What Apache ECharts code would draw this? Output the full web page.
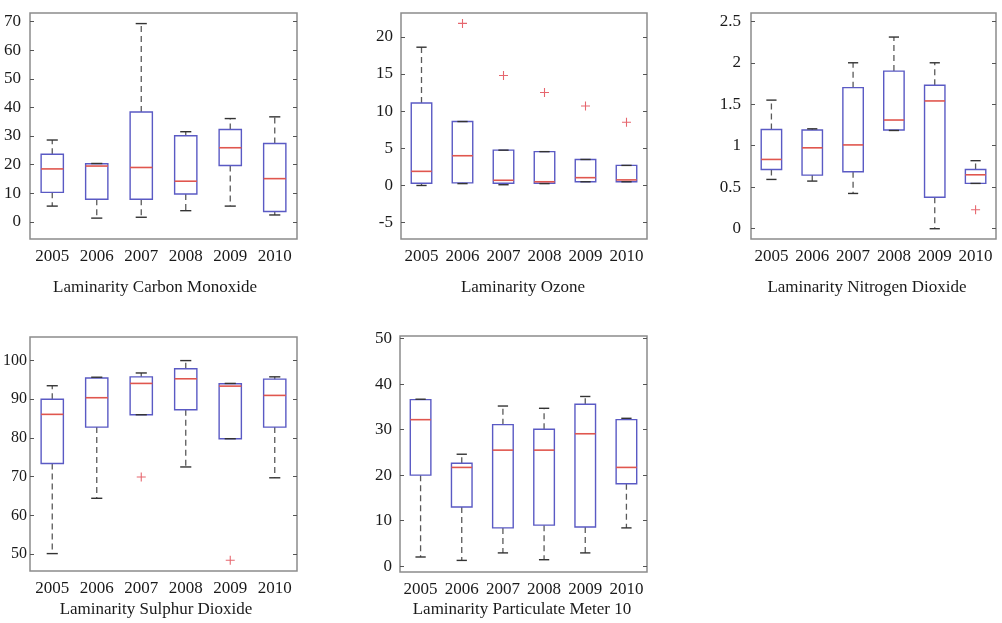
<!DOCTYPE html>
<html>
<head>
<meta charset="utf-8">
<title>Laminarity boxplots</title>
<script src="https://cdn.jsdelivr.net/npm/echarts@6/dist/echarts.min.js"></script>
<style>
  html, body { margin: 0; padding: 0; background: #fff; }
  #chart { width: 1002px; height: 623px; }
</style>
</head>
<body>
<div id="chart"></div>
<script>
const years = ['2005', '2006', '2007', '2008', '2009', '2010'];

// each box: [lower whisker, Q1, median, Q3, upper whisker]
const coBox = [
  [5.5, 10.3, 18.5, 23.6, 28.6],
  [1.3, 7.9, 19.5, 20.3, 20.4],
  [1.6, 7.9, 19.0, 38.4, 69.3],
  [3.9, 9.75, 14.2, 30.1, 31.5],
  [5.5, 19.7, 25.9, 32.3, 36.1],
  [2.4, 3.6, 15.1, 27.4, 36.7]
];
const coOutliers = [];
const coTicks = [0, 10, 20, 30, 40, 50, 60, 70];

const ozoneBox = [
  [0.0, 0.3, 1.9, 11.1, 18.6],
  [0.25, 0.35, 4.0, 8.6, 8.6],
  [0.1, 0.3, 0.7, 4.75, 4.75],
  [0.25, 0.3, 0.5, 4.55, 4.55],
  [0.5, 0.5, 1.05, 3.5, 3.5],
  [0.5, 0.5, 0.75, 2.7, 2.7]
];
const ozoneOutliers = [[1, 21.8], [2, 14.8], [3, 12.5], [4, 10.7], [5, 8.5]];
const ozoneTicks = [-5, 0, 5, 10, 15, 20];

const no2Box = [
  [0.594, 0.714, 0.835, 1.196, 1.55],
  [0.574, 0.646, 0.975, 1.19, 1.204],
  [0.425, 0.686, 1.01, 1.70, 2.0],
  [1.184, 1.19, 1.31, 1.90, 2.31],
  [0.0, 0.38, 1.54, 1.73, 2.0],
  [0.546, 0.546, 0.65, 0.714, 0.82]
];
const no2Outliers = [[5, 0.229]];
const no2Ticks = [0, 0.5, 1, 1.5, 2, 2.5];

const so2Box = [
  [50.1, 73.4, 86.1, 90.0, 93.5],
  [64.4, 82.8, 90.4, 95.5, 95.7],
  [86.0, 86.0, 94.1, 95.8, 96.8],
  [72.5, 87.3, 95.3, 97.9, 100],
  [79.8, 79.8, 93.4, 94.0, 94.1],
  [69.7, 82.8, 91.0, 95.2, 95.8]
];
const so2Outliers = [[2, 69.9], [4, 48.4]];
const so2Ticks = [50, 60, 70, 80, 90, 100];

const pm10Box = [
  [2.0, 20.0, 32.2, 36.6, 36.7],
  [1.25, 13.0, 21.7, 22.6, 24.6],
  [2.9, 8.4, 25.5, 31.1, 35.2],
  [1.4, 9.0, 25.5, 30.1, 34.7],
  [2.9, 8.6, 29.1, 35.6, 37.3],
  [8.4, 18.1, 21.7, 32.2, 32.5]
];
const pm10Outliers = [];
const pm10Ticks = [0, 10, 20, 30, 40, 50];

const panels = [
  {title: 'Laminarity Carbon Monoxide', box: coBox, out: coOutliers, ticks: coTicks,
   min: -6, max: 73, grid: {left: 30, top: 13, width: 267, height: 226}, tx: 155, ty: 288, lm: 9},
  {title: 'Laminarity Ozone', box: ozoneBox, out: ozoneOutliers, ticks: ozoneTicks,
   min: -7.2, max: 23.2, grid: {left: 401, top: 13, width: 246, height: 226}, tx: 523, ty: 288, lm: 8},
  {title: 'Laminarity Nitrogen Dioxide', box: no2Box, out: no2Outliers, ticks: no2Ticks,
   min: -0.124, max: 2.6, grid: {left: 751, top: 13, width: 245, height: 226}, tx: 867, ty: 288, lm: 10},
  {title: 'Laminarity Sulphur Dioxide', box: so2Box, out: so2Outliers, ticks: so2Ticks,
   min: 45.6, max: 106.1, grid: {left: 30, top: 337, width: 267, height: 234}, tx: 156, ty: 610, lm: 3},
  {title: 'Laminarity Particulate Meter 10', box: pm10Box, out: pm10Outliers, ticks: pm10Ticks,
   min: -1.3, max: 50.6, grid: {left: 400, top: 336, width: 247, height: 236}, tx: 522, ty: 610, lm: 8}
];

const FONT = '"Liberation Serif", "Times New Roman", serif';
const BOX_BLUE = '#5a5ac4';
const MED_RED = '#e0564e';
const WHISK = '#5a5a5a';

function renderBox(params, api) {
  let x = api.value(0);
  let lo = api.coord([x, api.value(1)]);
  let q1 = api.coord([x, api.value(2)]);
  let md = api.coord([x, api.value(3)]);
  let q3 = api.coord([x, api.value(4)]);
  let hi = api.coord([x, api.value(5)]);
  let band = api.size([1, 0])[0];
  let bw = band * 0.5;
  let cw = band * 0.25;
  let cx = lo[0];
  let dash = {stroke: WHISK, lineWidth: 1.3, lineDash: [6, 4]};
  let cap = {stroke: '#333', lineWidth: 1.4};
  return {
    type: 'group',
    children: [
      {type: 'line', shape: {x1: cx, y1: q3[1], x2: cx, y2: hi[1]}, style: dash},
      {type: 'line', shape: {x1: cx, y1: q1[1], x2: cx, y2: lo[1]}, style: dash},
      {type: 'rect', shape: {x: cx - bw / 2, y: q3[1], width: bw, height: q1[1] - q3[1]},
        style: {fill: 'rgba(255,255,255,0)', stroke: BOX_BLUE, lineWidth: 1.4}},
      {type: 'line', shape: {x1: cx - cw / 2, y1: hi[1], x2: cx + cw / 2, y2: hi[1]}, style: cap},
      {type: 'line', shape: {x1: cx - cw / 2, y1: lo[1], x2: cx + cw / 2, y2: lo[1]}, style: cap},
      {type: 'line', shape: {x1: cx - bw / 2, y1: md[1], x2: cx + bw / 2, y2: md[1]},
        style: {stroke: MED_RED, lineWidth: 1.6}}
    ]
  };
}

let myChart = echarts.init(document.getElementById('chart'));

let grids = [], xAxes = [], yAxes = [], series = [], graphics = [];

panels.forEach(function (p, i) {
  grids.push(Object.assign({show: true, borderColor: '#8c8c8c', borderWidth: 1.5,
    backgroundColor: '#fff', containLabel: false, outerBoundsMode: 'none'}, p.grid));

  xAxes.push({
    type: 'category', gridIndex: i, data: years, boundaryGap: true,
    axisLine: {show: false}, axisTick: {show: false},
    axisLabel: {interval: 0, hideOverlap: false, color: '#1a1a1a', fontFamily: FONT,
      fontSize: 17, margin: 9}
  });

  // left axis with labels, right axis only for the inner ticks
  yAxes.push({
    type: 'value', gridIndex: i, min: p.min, max: p.max, position: 'left',
    axisLine: {show: false}, splitLine: {show: false},
    axisTick: {show: true, inside: true, length: 4, customValues: p.ticks,
      lineStyle: {color: '#555'}},
    axisLabel: {customValues: p.ticks, color: '#1a1a1a', fontFamily: FONT,
      fontSize: i === 3 ? 16 : 17, margin: p.lm}
  });
  yAxes.push({
    type: 'value', gridIndex: i, min: p.min, max: p.max, position: 'right',
    axisLine: {show: false}, splitLine: {show: false},
    axisTick: {show: true, inside: true, length: 4, customValues: p.ticks,
      lineStyle: {color: '#555'}},
    axisLabel: {show: false}
  });

  series.push({
    type: 'custom', xAxisIndex: i, yAxisIndex: i * 2,
    renderItem: renderBox,
    encode: {x: 0, y: [1, 2, 3, 4, 5]},
    data: p.box.map(function (b, k) { return [k].concat(b); }),
    z: 3
  });
  series.push({
    type: 'scatter', xAxisIndex: i, yAxisIndex: i * 2,
    symbol: 'path://M4.4,0H5.6V4.4H10V5.6H5.6V10H4.4V5.6H0V4.4H4.4Z',
    symbolSize: 9,
    itemStyle: {color: '#e0404a'},
    data: p.out,
    z: 4
  });

  graphics.push({
    type: 'text', x: p.tx, y: p.ty,
    style: {text: p.title, fill: '#1a1a1a', font: '17px ' + FONT,
      textAlign: 'center', textVerticalAlign: 'middle'}
  });
});

let option = {
  backgroundColor: '#fff',
  animation: false,
  grid: grids,
  xAxis: xAxes,
  yAxis: yAxes,
  series: series,
  graphic: graphics
};

myChart.setOption(option);
</script>
</body>
</html>
